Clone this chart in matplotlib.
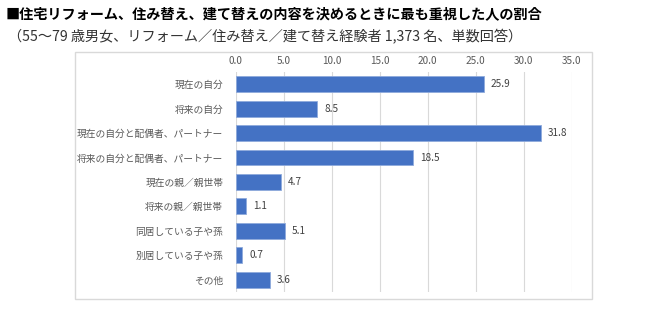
import matplotlib
matplotlib.use("Agg")
import matplotlib.pyplot as plt
from matplotlib.patches import Rectangle

plt.rcParams['font.family'] = ['Noto Sans CJK JP', 'DejaVu Sans']

categories = ["現在の自分", "将来の自分", "現在の自分と配偶者、パートナー",
              "将来の自分と配偶者、パートナー", "現在の親／親世帯", "将来の親／親世帯",
              "同居している子や孫", "別居している子や孫", "その他"]
values = [25.9, 8.5, 31.8, 18.5, 4.7, 1.1, 5.1, 0.7, 3.6]
xticks = [0, 5, 10, 15, 20, 25, 30, 35]

title = "■住宅リフォーム、住み替え、建て替えの内容を決めるときに最も重視した人の割合"
subtitle = "（55～79 歳男女、リフォーム／住み替え／建て替え経験者 1,373 名、単数回答）"

fig = plt.figure(figsize=(6.5, 3.22), dpi=100)
ax = fig.add_axes([0.3626, 0.0932, 0.5169, 0.6832])

# outer chart frame
fig.patches.append(Rectangle((0.1154, 0.0714), 0.795, 0.767, transform=fig.transFigure,
                             fill=False, edgecolor="#D9D9D9", linewidth=1.0))

ypos = list(range(len(categories)))
ax.barh(ypos, values, height=0.65, color="#4472C4", edgecolor="#8FAADC", linewidth=0.6, zorder=3)
for y, v in zip(ypos, values):
    ax.text(v + 0.7, y, f"{v:.1f}", va="center", ha="left", fontsize=7.2, color="#404040")

ax.set_xlim(0, 35)
ax.set_ylim(8.5, -0.5)
ax.set_xticks(xticks)
ax.set_xticklabels([f"{t:.1f}" for t in xticks], fontsize=7.2, color="#595959")
ax.xaxis.tick_top()
ax.set_yticks(ypos)
ax.set_yticklabels(categories, fontsize=7, color="#595959")
ax.tick_params(length=0, pad=9)
ax.tick_params(axis="x", pad=4)
ax.grid(axis="x", color="#D9D9D9", linewidth=0.8, zorder=0)
for s in ax.spines.values():
    s.set_visible(False)

fig.text(0.008, 0.955, title, fontsize=10.2, fontweight="bold", color="black", va="center")
fig.text(0.012, 0.885, subtitle, fontsize=10.2, color="#333333", va="center")

fig.savefig("out.png", dpi=100)
plt.close()
